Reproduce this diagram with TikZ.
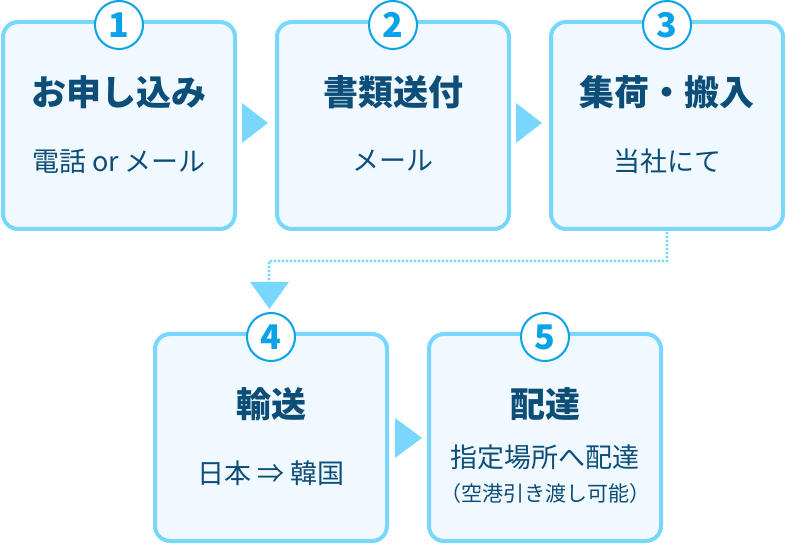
\documentclass[tikz,border=0pt]{standalone}
\usepackage{fontspec}
\newfontfamily\jp{Noto Sans CJK JP}
\definecolor{bordc}{HTML}{79D6FC}
\definecolor{fillc}{HTML}{F0F9FF}
\definecolor{txtc}{HTML}{0C4E78}
\definecolor{numc}{HTML}{0BA3E8}
\tikzset{
  stepbox/.style={draw=bordc, fill=fillc, line width=4pt, rounded corners=15pt},
  numcirc/.style={circle, draw=numc, fill=white, line width=2pt, minimum size=48pt, inner sep=0pt,
     font=\jp\bfseries\fontsize{34}{34}\selectfont, text=numc},
  ttl/.style={font=\jp\bfseries\fontsize{35}{36}\selectfont, text=txtc, inner sep=0pt},
  sub/.style={font=\jp\fontsize{27}{28}\selectfont, text=txtc, inner sep=0pt},
  small/.style={font=\jp\fontsize{21}{22}\selectfont, text=txtc, inner sep=0pt},
  tri/.style={fill=bordc, draw=none},
  dotline/.style={draw=bordc, line width=3.4pt, line cap=round, dash pattern=on 0pt off 4pt}
}
\begin{document}
\begin{tikzpicture}[x=1pt,y=-1pt]
\useasboundingbox (0,0) rectangle (785,545);
% row 1 boxes
\draw[stepbox] (3,22) rectangle (235,229);
\draw[stepbox] (277,22) rectangle (509,229);
\draw[stepbox] (551,22) rectangle (783,229);
% row 2 boxes
\draw[stepbox] (155,334) rectangle (387,541);
\draw[stepbox] (429,334) rectangle (661,541);
% connector points
\coordinate (b3s) at (667,229);
\coordinate (bend1) at (667,261);
\coordinate (bend2) at (269,261);
\coordinate (tritop) at (269,283);
\draw[dotline] (b3s) -- (bend1) -- (bend2) -- (tritop);
% triangles
\fill[tri] (242,103) -- (268,123) -- (242,143) -- cycle;
\fill[tri] (516,103) -- (542,123) -- (516,143) -- cycle;
\fill[tri] (395,418) -- (422,438) -- (395,458) -- cycle;
\fill[tri] (250,282) -- (289,282) -- (269.5,309) -- cycle;
% circles
\node[numcirc] (n1) at (119,25) {1};
\node[numcirc] (n2) at (393,25) {2};
\node[numcirc] (n3) at (667,25) {3};
\node[numcirc] (n4) at (271,337) {4};
\node[numcirc] (n5) at (545,337) {5};
% texts
\node[ttl] (t1) at (119,92) {お申し込み};
\node[sub] (s1) at (119,161) {電話 or メール};
\node[ttl] (t2) at (393,92) {書類送付};
\node[sub] (s2) at (393,161) {メール};
\node[ttl] (t3) at (667,92) {集荷・搬入};
\node[sub] (s3) at (667,161) {当社にて};
\node[ttl] (t4) at (271,404) {輸送};
\node[sub] (s4) at (271,473) {日本 ⇒ 韓国};
\node[ttl] (t5) at (545,404) {配達};
\node[sub] (s5) at (545,457) {指定場所へ配達};
\node[small] (s5b) at (545,494) {（空港引き渡し可能）};
\end{tikzpicture}
\end{document}
